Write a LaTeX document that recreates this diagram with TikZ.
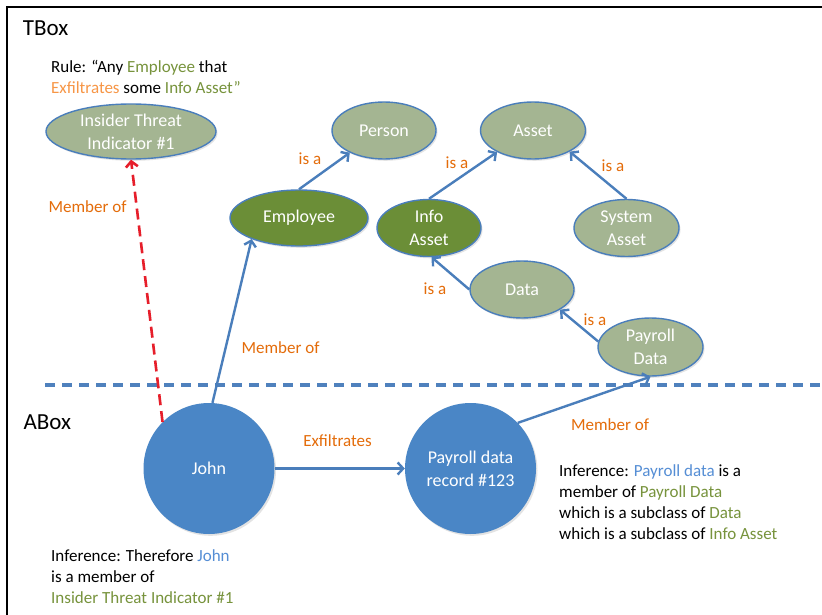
\documentclass[tikz,border=0pt]{standalone}
\usepackage{fontspec}
\setmainfont{Carlito}
\usetikzlibrary{arrows.meta,shapes.geometric,shadows}
\definecolor{edgeblue}{HTML}{4A7EBB}
\definecolor{lightgr}{HTML}{A4B592}
\definecolor{darkgr}{HTML}{6B8E37}
\definecolor{circblue}{HTML}{4A86C6}
\definecolor{lblorange}{HTML}{E46C0A}
\definecolor{lightorange}{HTML}{F79646}
\definecolor{txtgreen}{HTML}{77933C}
\definecolor{txtblue}{HTML}{558ED5}
\definecolor{sepblue}{HTML}{4F81BD}
\definecolor{redline}{HTML}{E61E2A}
\begin{document}
\begin{tikzpicture}[x=1pt,y=-1pt,
  shade/.style={drop shadow={opacity=0.22,shadow xshift=1.5pt,shadow yshift=-1.8pt}},
  cls/.style={ellipse, draw=edgeblue, line width=1.4pt, fill=lightgr, inner sep=0pt, shade},
  dcls/.style={cls, fill=darkgr},
  inst/.style={circle, fill=circblue, minimum size=131pt, inner sep=0pt, shade},
  intext/.style={text=white, align=center, inner sep=0pt, font=\fontsize{18}{23}\selectfont},
  conn/.style={draw=edgeblue, line width=2.4pt, -{Straight Barb[length=5.5pt,width=12pt]}},
  infer/.style={draw=redline, line width=2.6pt, dash pattern=on 11pt off 6pt, -{Straight Barb[length=5.5pt,width=12pt]}},
  sepline/.style={draw=sepblue, line width=3.2pt, dash pattern=on 10pt off 7pt},
  lbl/.style={text=lblorange, inner sep=0pt, font=\fontsize{17}{20}\selectfont},
  txt/.style={inner sep=0pt, anchor=base west, font=\fontsize{17}{20}\selectfont},
  boxtitle/.style={inner sep=0pt, anchor=base west, font=\fontsize{23}{27}\selectfont}
]
\useasboundingbox (0,0) rectangle (822,615);
\fill[white] (0,0) rectangle (822,615);

% frame
\coordinate (fr1) at (822,7);
\coordinate (fr2) at (7,7);
\coordinate (fr3) at (7,615);
\draw[line width=2.6pt] (fr1) -- (fr2) -- (fr3);

% separator
\coordinate (sepL) at (45,385);
\coordinate (sepR) at (822,385);
\draw[sepline] (sepL) -- (sepR);

% titles
\node[boxtitle] (tbox) at (22.7,35.7) {TBox};
\node[boxtitle] (abox) at (23.3,429) {ABox};

% rule text
\node[txt] (rule1) at (51,72.7) {Rule: “Any \textcolor{txtgreen}{Employee} that};
\node[txt] (rule2) at (51,94) {\textcolor{lightorange}{Exfiltrates} some \textcolor{txtgreen}{Info Asset”}};

% classes
\node[cls, minimum width=170pt, minimum height=55pt, label={[intext]center:Insider Threat\\Indicator \#1}] (ins) at (131,131.5) {};
\node[cls, minimum width=104pt, minimum height=57pt, label={[intext]center:Person}] (person) at (384,130.5) {};
\node[dcls, minimum width=138pt, minimum height=56pt, label={[intext]center:Employee}] (emp) at (299,218) {};
\node[dcls, minimum width=104pt, minimum height=57pt, label={[intext]center:Info\\Asset}] (ia) at (429,228) {};
\node[cls, minimum width=105pt, minimum height=57pt, label={[intext]center:Asset}] (asset) at (533,130.5) {};
\node[cls, minimum width=105pt, minimum height=57pt, label={[intext]center:System\\Asset}] (sa) at (626.5,228) {};
\node[cls, minimum width=104pt, minimum height=57pt, label={[intext]center:Data}] (data) at (522,289.5) {};
\node[cls, minimum width=105pt, minimum height=58pt, label={[intext]center:Payroll\\Data}] (pd) at (650.5,347) {};

% instances
\node[inst, label={[intext]center:John}] (john) at (209,468.5) {};
\node[inst, label={[intext]center:Payroll data\\record \#123}] (rec) at (470.5,468.5) {};

% is-a connectors
\draw[conn] (emp.north) -- (person.213);
\draw[conn] (ia.north) -- (asset.211);
\draw[conn] (sa.north) -- (asset.330);
\draw[conn] (data.west) -- (ia.275);
\draw[conn] (pd.174) -- (data.332);

% membership / property connectors
\draw[conn] (john.87) -- (emp.204);
\draw[conn] (rec.44) -- (pd.south);
\draw[conn] (john.east) -- (rec.west);
\draw[infer] (john.135) -- (ins.south);

% connector labels
\node[lbl] (l1) at (310,159) {is a};
\node[lbl] (l2) at (457,163) {is a};
\node[lbl] (l3) at (613,166) {is a};
\node[lbl] (l4) at (435,288.5) {is a};
\node[lbl] (l5) at (595,320) {is a};
\node[lbl] (m1) at (87.5,207) {Member of};
\node[lbl] (m2) at (280.5,347.5) {Member of};
\node[lbl] (m3) at (610,425) {Member of};
\node[lbl] (ex) at (337.5,441) {Exfiltrates};

% inference texts
\node[txt] (inf1) at (51,561) {Inference: Therefore \textcolor{txtblue}{John}};
\node[txt] (inf2) at (51,582.3) {is a member of};
\node[txt] (inf3) at (51,603.5) {\textcolor{txtgreen}{Insider Threat Indicator \#1}};

\node[txt] (inr1) at (559,476) {Inference: \textcolor{txtblue}{Payroll data} is a};
\node[txt] (inr2) at (559,497.3) {member of \textcolor{txtgreen}{Payroll Data}};
\node[txt] (inr3) at (559,518.5) {which is a subclass of \textcolor{txtgreen}{Data}};
\node[txt] (inr4) at (559,539.8) {which is a subclass of \textcolor{txtgreen}{Info Asset}};
\end{tikzpicture}
\end{document}
